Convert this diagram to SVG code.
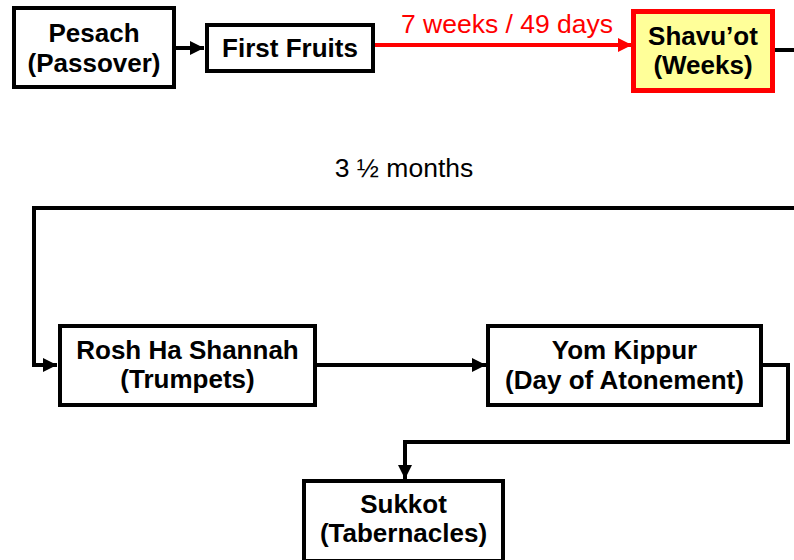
<svg xmlns="http://www.w3.org/2000/svg" width="794" height="560" viewBox="0 0 794 560">
<defs>
<style>
.box{fill:#fff;stroke:#000;stroke-width:4}
.hl{fill:#ffff99;stroke:#ff0000;stroke-width:5}
.t{font-family:"Liberation Sans",Arial,sans-serif;font-weight:bold;font-size:26px;fill:#000;text-anchor:middle}
.lbl{font-family:"Liberation Sans",Arial,sans-serif;font-size:26.5px;text-anchor:middle}
.c{fill:none;stroke:#000;stroke-width:4}
.r{fill:none;stroke:#ff0000;stroke-width:4}
</style>
<marker id="ah" viewBox="0 0 14 14" refX="14" refY="7" markerWidth="14" markerHeight="14" markerUnits="userSpaceOnUse" orient="auto">
<path d="M0,0 L14,7 L0,14 Z" fill="#000"/>
</marker>
<marker id="ahr" viewBox="0 0 14 14" refX="14" refY="7" markerWidth="14" markerHeight="14" markerUnits="userSpaceOnUse" orient="auto">
<path d="M0,0 L14,7 L0,14 Z" fill="#ff0000"/>
</marker>
</defs>
<rect width="794" height="560" fill="#fff"/>
<g id="connectors">
<path class="c" d="M176,48 H204" marker-end="url(#ah)"/>
<path class="r" d="M375,45 H632" marker-end="url(#ahr)"/>
<path class="c" d="M775,50 H796"/>
<path class="c" d="M796,208 H34 V365 H57" marker-end="url(#ah)"/>
<path class="c" d="M317,365 H486" marker-end="url(#ah)"/>
<path class="c" d="M763,365 H788 V442 H405 V479" marker-end="url(#ah)"/>
<text class="lbl" x="507" y="33" fill="#ff0000">7 weeks / 49 days</text>
<text class="lbl" x="404" y="177" fill="#000">3 ½ months</text>
</g>
<g id="pesach">
<rect class="box" x="14" y="8" width="160" height="79"/>
<text class="t" x="94" y="42">Pesach</text>
<text class="t" x="94" y="72">(Passover)</text>
</g>
<g id="firstfruits">
<rect class="box" x="207" y="25" width="166" height="46"/>
<text class="t" x="290" y="57">First Fruits</text>
</g>
<g id="shavuot">
<rect class="hl" x="633.5" y="11.5" width="139" height="79"/>
<text class="t" x="703" y="45">Shavu’ot</text>
<text class="t" x="703" y="74">(Weeks)</text>
</g>
<g id="roshhashannah">
<rect class="box" x="60" y="326" width="255" height="79"/>
<text class="t" x="187.5" y="359">Rosh Ha Shannah</text>
<text class="t" x="187.5" y="388">(Trumpets)</text>
</g>
<g id="yomkippur">
<rect class="box" x="488" y="326" width="273" height="79"/>
<text class="t" x="624.5" y="359">Yom Kippur</text>
<text class="t" x="624.5" y="389">(Day of Atonement)</text>
</g>
<g id="sukkot">
<rect class="box" x="304" y="481" width="199" height="80"/>
<text class="t" x="403.5" y="513">Sukkot</text>
<text class="t" x="403.5" y="542">(Tabernacles)</text>
</g>
</svg>
